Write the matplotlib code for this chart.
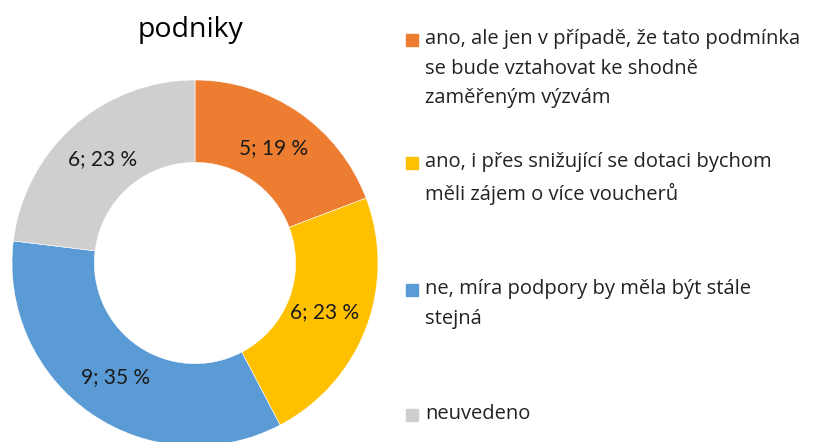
import matplotlib.pyplot as plt
from matplotlib.patches import Rectangle

plt.rcParams['font.family'] = ['Open Sans', 'DejaVu Sans']

############################################
# DATA
############################################
labels = [
    "ano, ale jen v případě, že tato podmínka\nse bude vztahovat ke shodně\nzaměřeným výzvám",
    "ano, i přes snižující se dotaci bychom\nměli zájem o více voucherů",
    "ne, míra podpory by měla být stále\nstejná",
    "neuvedeno",
]
values = [5, 6, 9, 6]
colors = ["#ED7D31", "#FFC000", "#5B9BD5", "#D0CECE"]
title = "podniky"

W, H = 814, 442
fig = plt.figure(figsize=(W / 100, H / 100), dpi=100)

############################################
# DONUT
############################################
cx, cy, r = 195, 263, 183
ax = fig.add_axes([(cx - r) / W, (H - cy - r) / H, 2 * r / W, 2 * r / H])

total = sum(values)


def fmt(pct):
    v = round(pct * total / 100)
    return f"{v}; {pct:.0f} %"


wedges, texts, autotexts = ax.pie(
    values, colors=colors, startangle=90, counterclock=False,
    radius=1, autopct=fmt, pctdistance=0.76,
    wedgeprops=dict(width=0.45, edgecolor="white", linewidth=0.4),
    textprops=dict(fontsize=15, color="#1a1a1a", family=["Lato", "DejaVu Sans"]),
)
ax.set_xlim(-1, 1)
ax.set_ylim(-1, 1)
ax.set_aspect("equal")
ax.axis("off")

fig.text(191 / W, 1 - 30 / H, title, ha="center", va="center", fontsize=20.5, color="black")

############################################
# LEGEND
############################################
legend_y = [40, 163, 290, 415]
sq = 12
for lab, col, y in zip(labels, colors, legend_y):
    fig.patches.append(Rectangle((406 / W, 1 - (y + sq / 2) / H), sq / W, sq / H,
                                 transform=fig.transFigure, color=col))
    fig.text(425 / W, 1 - (y - 11) / H, lab, ha="left", va="top", fontsize=14.5,
             color="#222222", linespacing=1.64)

plt.savefig("out.png", dpi=100)
plt.close()
